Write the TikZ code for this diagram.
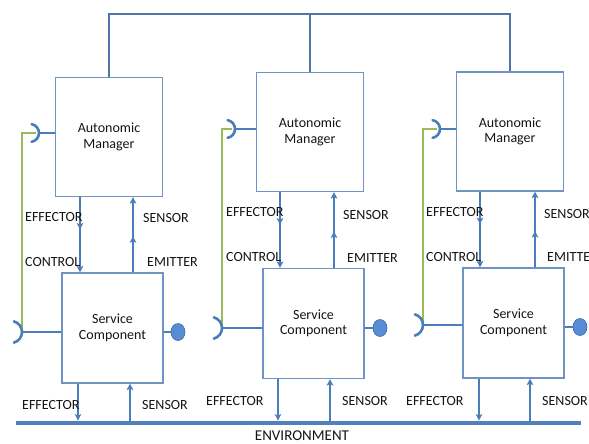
\documentclass[tikz,border=0pt]{standalone}
\usepackage{fontspec}
\setmainfont{Carlito}
\usetikzlibrary{arrows.meta,decorations.markings,shapes.geometric}

\definecolor{boxblue}{RGB}{112,146,198}
\definecolor{linkblue}{RGB}{74,126,187}
\definecolor{busblue}{RGB}{80,115,168}
\definecolor{envblue}{RGB}{79,129,189}
\definecolor{sockgreen}{RGB}{155,187,89}
\definecolor{ballblue}{RGB}{88,141,214}
\definecolor{balledge}{RGB}{60,105,170}
\definecolor{inkgray}{RGB}{20,20,20}

\tikzset{
  mgrbox/.style={draw=boxblue, line width=1.1pt, minimum width=107pt, minimum height=119pt,
    inner sep=0pt, align=center, text=inkgray, font=\fontsize{14}{15.5}\selectfont},
  svcbox/.style={mgrbox, minimum width=101pt, minimum height=110pt},
  tag/.style={anchor=west, inner sep=0pt, text=inkgray, font=\fontsize{14}{15}\selectfont},
  link/.style={color=linkblue, line width=1.8pt},
  headtip/.style={-{Stealth[length=6.5pt,width=6.5pt,inset=1.5pt]}},
  midtip/.style={postaction={decorate}, decoration={markings,
    mark=at position #1 with {\arrow{Stealth[length=6.5pt,width=6.5pt,inset=1.5pt]}}}},
  busline/.style={draw=busblue, line width=1.8pt},
  sock/.style={draw=linkblue, line width=2.6pt, line cap=round},
  wire/.style={draw=sockgreen, line width=1.6pt},
  ball/.style={ellipse, fill=ballblue, draw=balledge, line width=0.6pt,
    minimum width=14pt, minimum height=17pt, inner sep=0pt},
  envbar/.style={fill=envblue, minimum width=565pt, minimum height=4.5pt, inner sep=0pt}
}

\begin{document}
\begin{tikzpicture}[x=1pt,y=-1pt]
\useasboundingbox (0,0) rectangle (589,444);

% managers and service components
\node[mgrbox] (am1) at (109,137) {Autonomic\\Manager};
\node[mgrbox] (am2) at (310,132) {Autonomic\\Manager};
\node[mgrbox] (am3) at (510,131.5) {Autonomic\\Manager};
\node[svcbox] (sc1) at (112.5,328) {Service\\Component};
\node[svcbox] (sc2) at (313.5,323.5) {Service\\Component};
\node[svcbox] (sc3) at (513.5,323) {Service\\Component};

% environment bar
\node[envbar] (env) at (298.5,423) {};
\node[tag, anchor=center, font=\fontsize{15}{17}\selectfont] (envlbl) at (302,436) {ENVIRONMENT};

% bus joining the managers
\coordinate (bus) at (0,14);
\draw[busline] (am1.north) -- (am1.north |- bus) -- (am3.north |- bus) -- (am3.north);
\draw[busline] (am2.north) -- (am2.north |- bus);

% x positions of the vertical links
\coordinate (e1) at (80,0);  \coordinate (s1) at (133,0);
\coordinate (e2) at (280,0); \coordinate (s2) at (334,0);
\coordinate (e3) at (480,0); \coordinate (s3) at (535,0);
\coordinate (f1) at (78,0);  \coordinate (t1) at (130,0);
\coordinate (f2) at (278,0); \coordinate (t2) at (330,0);
\coordinate (f3) at (479,0); \coordinate (t3) at (530,0);

\foreach \i in {1,2,3}{
  % manager -> component (effector/control)
  \draw[link, headtip, midtip=0.43] (e\i |- am\i.south) -- (e\i |- sc\i.north);
  % component -> manager (emitter/sensor)
  \draw[link, headtip, midtip=0.48] (s\i |- sc\i.north) -- (s\i |- am\i.south);
  % component -> environment and back
  \draw[link, headtip] (f\i |- sc\i.south) -- (f\i |- env.north);
  \draw[link, headtip] (t\i |- env.north) -- (t\i |- sc\i.south);
}

% sockets on the managers and components
\coordinate (ra1) at (39,133);  \coordinate (rs1) at (22,332);
\coordinate (ra2) at (235,129); \coordinate (rs2) at (222,328);
\coordinate (ra3) at (440,129); \coordinate (rs3) at (423,325);
\node[ball] (b1) at (178,332) {};
\node[ball] (b2) at (380,328) {};
\node[ball] (b3) at (580,327) {};

\foreach \i in {1,2,3}{
  \draw[wire] (rs\i) -- (rs\i |- ra\i) -- ([xshift=-3pt]ra\i);
  \draw[link] (ra\i) -- (ra\i -| am\i.west);
  \draw[link] (rs\i) -- (rs\i -| sc\i.west);
  \draw[link] (b\i.west -| sc\i.east) -- (b\i.west);
  \draw[sock] (ra\i) arc[start angle=0, end angle=80, radius=9pt];
  \draw[sock] (ra\i) arc[start angle=0, end angle=-80, radius=9pt];
  \draw[sock] (rs\i) arc[start angle=0, end angle=75, radius=11pt];
  \draw[sock] (rs\i) arc[start angle=0, end angle=-75, radius=11pt];
}

% link labels
\node[tag] (le1) at (25,217) {EFFECTOR};
\node[tag] (ls1) at (143,218) {SENSOR};
\node[tag] (lc1) at (25,262) {CONTROL};
\node[tag] (lm1) at (147,262) {EMITTER};
\node[tag] (lf1) at (22,405) {EFFECTOR};
\node[tag] (lt1) at (142,405) {SENSOR};

\node[tag] (le2) at (226,212) {EFFECTOR};
\node[tag] (ls2) at (343,215) {SENSOR};
\node[tag] (lc2) at (226,257) {CONTROL};
\node[tag] (lm2) at (347,258) {EMITTER};
\node[tag] (lf2) at (206,401) {EFFECTOR};
\node[tag] (lt2) at (342,401) {SENSOR};

\node[tag] (le3) at (426,212) {EFFECTOR};
\node[tag] (ls3) at (544,214) {SENSOR};
\node[tag] (lc3) at (426,257) {CONTROL};
\node[tag] (lm3) at (547,257) {EMITTE};
\node[tag] (lf3) at (406,401) {EFFECTOR};
\node[tag] (lt3) at (542,401) {SENSOR};
\end{tikzpicture}
\end{document}
